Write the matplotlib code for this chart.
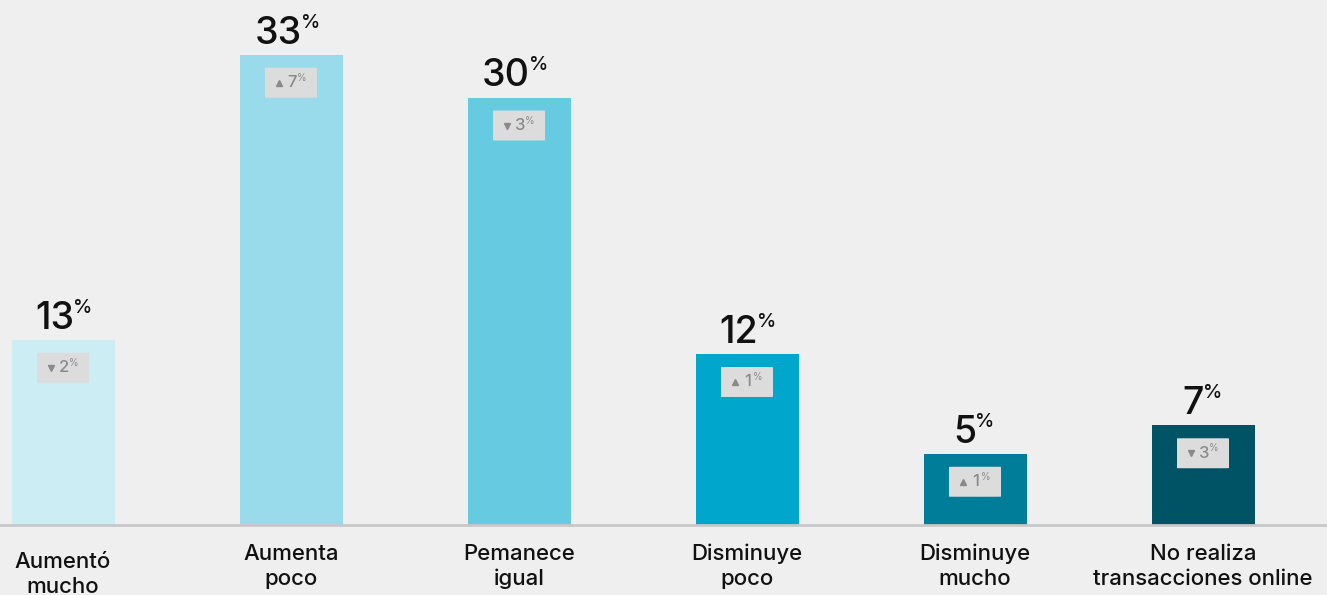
import matplotlib.pyplot as plt
from matplotlib.patches import FancyBboxPatch

# Datos del gráfico
categorias = ["Aumentó\nmucho", "Aumenta\npoco", "Pemanece\nigual",
              "Disminuye\npoco", "Disminuye\nmucho", "No realiza\ntransacciones online"]
valores = [13, 33, 30, 12, 5, 7]
cambios = [2, 7, 3, 1, 1, 3]
direccion = ["down", "up", "down", "up", "up", "down"]
colores = ["#cdedf5", "#99dbeb", "#66cae0", "#00a6cb", "#007e99", "#005265"]

plt.rcParams['font.family'] = ['Inter', 'DejaVu Sans']

W, H = 1327, 595
PX_PER_PCT = 14.25
fig = plt.figure(figsize=(W / 100, H / 100), dpi=100)
fig.patch.set_facecolor("#efefef")
ax = fig.add_axes([0, 70 / H, 1, 525 / H])
ax.set_facecolor("#efefef")
ax.set_xlim(-63 / 228, (W - 63) / 228)
ax.set_ylim(0, 525 / PX_PER_PCT)
ax.axis("off")

x = list(range(len(valores)))
ax.bar(x, valores, width=103 / 228, color=colores, zorder=2)
ax.axhline(0, color="#c8c8c8", lw=2, zorder=3, clip_on=False)

for i, v in enumerate(valores):
    # etiqueta grande con el porcentaje
    shift = 11 if v >= 10 else 1
    ax.annotate(str(v), xy=(i, v), xytext=(shift, 3), textcoords="offset pixels",
                ha="right", va="bottom", fontsize=27, fontweight=500, color="#111111")
    ax.annotate("%", xy=(i, v), xytext=(shift - 1, 23), textcoords="offset pixels",
                ha="left", va="bottom", fontsize=14, fontweight=500, color="#111111")

    # caja con la variación
    bw, bh = 52 / 228, 30 / PX_PER_PCT
    top = v - 13 / PX_PER_PCT
    box = FancyBboxPatch((i - bw / 2, top - bh), bw, bh,
                         boxstyle="round,pad=0,rounding_size=0.02",
                         mutation_aspect=PX_PER_PCT / 228 * 10,
                         fc="#dcdcdc", ec="none", zorder=4)
    ax.add_patch(box)
    ymid = top - bh / 2
    ax.plot(i - 12 / 228, ymid, marker="^" if direccion[i] == "up" else "v",
            markersize=4.5, color="#8a8a8a", zorder=5)
    ax.annotate(str(cambios[i]), xy=(i, ymid), xytext=(1, 0), textcoords="offset pixels",
                ha="center", va="center", fontsize=12, fontweight=500, color="#8a8a8a", zorder=5)
    ax.annotate("%", xy=(i, ymid), xytext=(6, 5), textcoords="offset pixels",
                ha="left", va="center", fontsize=7, color="#8a8a8a", zorder=5)

for i, c in enumerate(categorias):
    dy = -27 if i == 0 else -19
    ax.annotate(c, xy=(i, 0), xytext=(0, dy), textcoords="offset pixels",
                ha="center", va="top", fontsize=16, fontweight=500,
                color="#111111", linespacing=1.3, annotation_clip=False)

fig.savefig("out.png", dpi=100, facecolor=fig.get_facecolor())
